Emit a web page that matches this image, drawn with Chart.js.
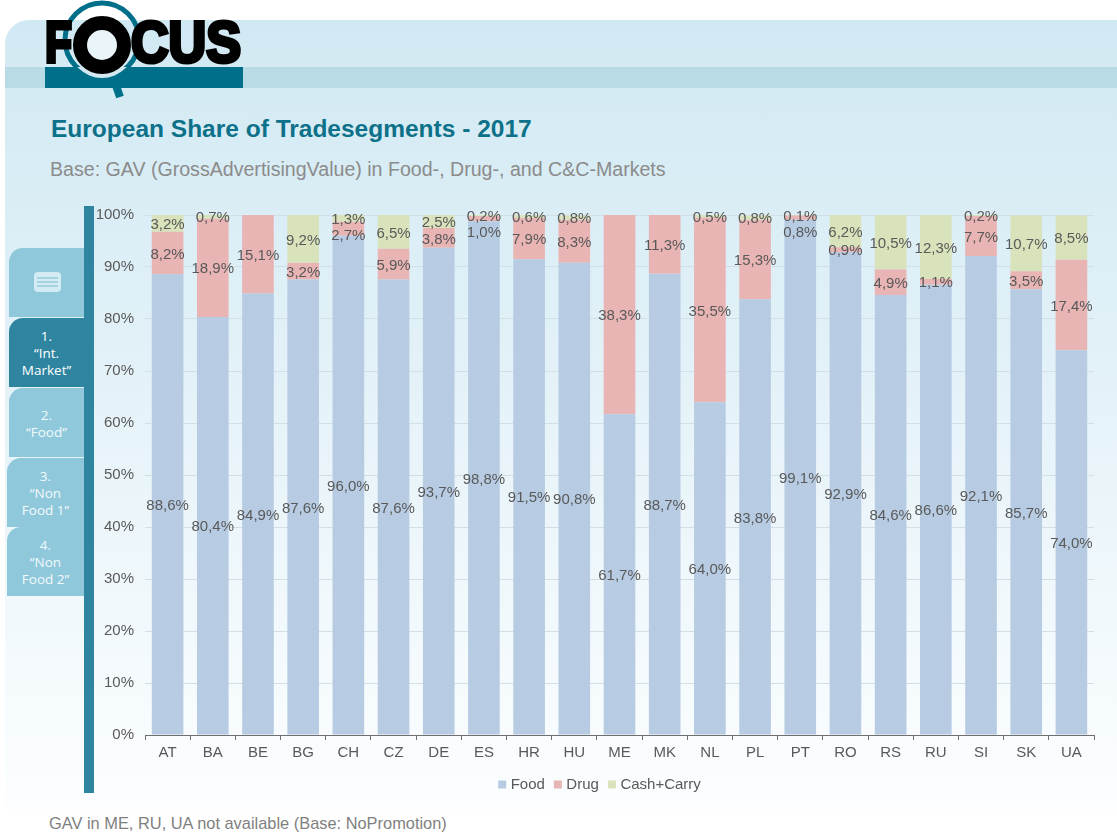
<!DOCTYPE html>
<html lang="en">
<head>
    <meta charset="UTF-8">
    <title>European Share of Tradesegments - 2017</title>
    <script src="https://cdn.jsdelivr.net/npm/chart.js"></script>
    <style>
        html, body { margin: 0; padding: 0; background: #fff; }
        body { position: relative; width: 1117px; height: 834px; overflow: hidden; font-family: "Liberation Sans", Arial, sans-serif; }
        .panel { position: absolute; left: 5px; top: 20px; width: 1112px; height: 790px; border-radius: 24px 0 0 0;
            background: linear-gradient(to bottom, #d1e9f3 0%, #dceef6 28%, #eef7fb 68%, #fcfeff 100%); }
        .band { position: absolute; left: 5px; top: 67px; width: 1112px; height: 21px; background: #b9dbe6; }
        .logo { position: absolute; left: 0; top: 0; }
        h1 { position: absolute; left: 51px; top: 114px; margin: 0; font-size: 24.5px; line-height: 30px; font-weight: bold; color: #0d7189; }
        .sub { position: absolute; left: 50px; top: 157px; font-size: 19.6px; line-height: 24px; color: #8b8b8b; }
        .note { position: absolute; left: 49px; top: 813px; font-size: 16.4px; line-height: 20px; color: #7f7f7f; }
        .rail { position: absolute; left: 84px; top: 206px; width: 10px; height: 587px; background: #2f85a0; }
        .tab { position: absolute; width: 75px; height: 69px; border-radius: 14px 0 0 0; background: #8fc8db; color: #f2fafc;
            font-family: "Open Sans", sans-serif; font-size: 13.5px; line-height: 17px; text-align: center; box-sizing: border-box; padding-top: 10px; }
        .tab.on { background: #2f85a0; color: #fff; }
        .icon { position: absolute; left: 25px; top: 24px; width: 27px; height: 20px; border-radius: 4px; background: #d3ebf2; }
        .icon i { position: absolute; left: 3px; right: 3px; height: 2px; background: #a5d3e2; }
        #wrap { position: absolute; left: 90px; top: 200px; width: 1020px; height: 610px; }
    </style>
</head>
<body>
    <div class="panel"></div>
    <div class="band"></div>

    <svg class="logo" width="260" height="100" viewBox="0 0 260 100">
        <rect x="45" y="67" width="198" height="21" fill="#00708a"/>
        <circle cx="102" cy="40" r="37" fill="none" stroke="#00708a" stroke-width="5"/>
        <line x1="113" y1="77" x2="120" y2="97" stroke="#00708a" stroke-width="8"/>
        <clipPath id="barClip"><rect x="45" y="67" width="198" height="21"/></clipPath>
        <circle cx="102" cy="45" r="33" fill="#d3e9f2" clip-path="url(#barClip)"/>
        <text x="45" y="62" font-family="Liberation Sans" font-weight="bold" font-size="57" fill="#000" stroke="#000" stroke-width="4" textLength="27" lengthAdjust="spacingAndGlyphs">F</text>
        <text x="131" y="62" font-family="Liberation Sans" font-weight="bold" font-size="57" fill="#000" stroke="#000" stroke-width="4" textLength="110" lengthAdjust="spacingAndGlyphs">CUS</text>
        <circle cx="102" cy="45" r="22" fill="#eaf5f9" stroke="#000" stroke-width="14"/>
    </svg>

    <h1>European Share of Tradesegments - 2017</h1>
    <div class="sub">Base: GAV (GrossAdvertisingValue) in Food-, Drug-, and C&amp;C-Markets</div>

    <div class="tab" style="left:9px;top:248px"><div class="icon"><i style="top:5px"></i><i style="top:9px"></i><i style="top:13px"></i></div></div>
    <div class="tab on" style="left:9px;top:318px">1.<br>“Int.<br>Market”</div>
    <div class="tab" style="left:9px;top:388px;padding-top:19px">2.<br>“Food”</div>
    <div class="tab" style="left:7px;top:458px;width:77px">3.<br>“Non<br>Food 1”</div>
    <div class="tab" style="left:7px;top:527px;width:77px">4.<br>“Non<br>Food 2”</div>
    <div class="rail"></div>

    <div id="wrap"><canvas id="shareChart" width="1020" height="610"></canvas></div>
    <div class="note">GAV in ME, RU, UA not available (Base: NoPromotion)</div>

    <script>
        const countries = ['AT', 'BA', 'BE', 'BG', 'CH', 'CZ', 'DE', 'ES', 'HR', 'HU', 'ME', 'MK', 'NL', 'PL', 'PT', 'RO', 'RS', 'RU', 'SI', 'SK', 'UA'];
        const food = [88.6, 80.4, 84.9, 87.6, 96.0, 87.6, 93.7, 98.8, 91.5, 90.8, 61.7, 88.7, 64.0, 83.8, 99.1, 92.9, 84.6, 86.6, 92.1, 85.7, 74.0];
        const drug = [8.2, 18.9, 15.1, 3.2, 2.7, 5.9, 3.8, 1.0, 7.9, 8.3, 38.3, 11.3, 35.5, 15.3, 0.8, 0.9, 4.9, 1.1, 7.7, 3.5, 17.4];
        const cashCarry = [3.2, 0.7, 0, 9.2, 1.3, 6.5, 2.5, 0.2, 0.6, 0.8, 0, 0, 0.5, 0.8, 0.1, 6.2, 10.5, 12.3, 0.2, 10.7, 8.5];

        const textColor = '#595959';
        const fontFamily = '"Liberation Sans", Arial, sans-serif';

        // values sit in the middle of each segment, comma as decimal mark.
        // going from the top segment down, a label too close to the one above is pushed below it
        const segmentLabels = {
            id: 'segmentLabels',
            afterDatasetsDraw(chart) {
                const ctx = chart.ctx;
                const minGap = 16;
                ctx.save();
                ctx.font = '15px ' + fontFamily;
                ctx.fillStyle = textColor;
                ctx.textAlign = 'center';
                ctx.textBaseline = 'middle';
                countries.forEach((name, j) => {
                    let lastY = -Infinity;
                    for (let i = chart.data.datasets.length - 1; i >= 0; i--) {
                        const value = chart.data.datasets[i].data[j];
                        if (!value) continue;
                        const c = chart.getDatasetMeta(i).data[j].getCenterPoint();
                        const y = Math.max(c.y, lastY + minGap);
                        ctx.fillText(value.toFixed(1).replace('.', ',') + '%', c.x, y + 1.5);
                        lastY = y;
                    }
                });
                ctx.restore();
            }
        };

        // legend is centred on the page part, not on the plot with its axis
        const legendShift = {
            id: 'legendShift',
            afterLayout(chart) {
                chart.legend.left += 9;
                chart.legend.right += 9;
            }
        };

        new Chart(document.getElementById('shareChart'), {
            type: 'bar',
            data: {
                labels: countries,
                datasets: [
                    { label: 'Food', data: food, backgroundColor: '#b7cce3' },
                    { label: 'Drug', data: drug, backgroundColor: '#e8b4b4' },
                    { label: 'Cash+Carry', data: cashCarry, backgroundColor: '#d9e3bb' }
                ]
            },
            options: {
                responsive: false,
                animation: false,
                layout: { autoPadding: false, padding: { left: 0, right: 16, top: 15, bottom: 8 } },
                datasets: { bar: { barPercentage: 0.7, categoryPercentage: 1 } },
                scales: {
                    x: {
                        stacked: true,
                        afterFit(scale) { scale.height = 30; },
                        border: { color: '#6f6f6f' },
                        grid: { drawOnChartArea: false, drawTicks: true, tickLength: 5, color: '#6f6f6f' },
                        ticks: { color: textColor, font: { family: fontFamily, size: 15 }, padding: 4, maxRotation: 0 }
                    },
                    y: {
                        stacked: true,
                        min: 0,
                        max: 100,
                        afterFit(scale) { scale.width = 55; },
                        border: { display: false },
                        // gap to the labels comes from invisible tick marks, tick padding would shrink the scale
                        grid: { color: '#d3dfe6', drawTicks: true, tickLength: 11, tickColor: 'rgba(0,0,0,0)' },
                        ticks: {
                            stepSize: 10,
                            color: textColor,
                            padding: 0,
                            font: { family: fontFamily, size: 15 },
                            callback: v => v + '%'
                        }
                    }
                },
                plugins: {
                    tooltip: { enabled: false },
                    legend: {
                        position: 'bottom',
                        labels: {
                            color: textColor,
                            font: { family: fontFamily, size: 15 },
                            usePointStyle: true,
                            pointStyle: 'rect',
                            boxWidth: 2,
                            boxHeight: 8,
                            padding: 12
                        }
                    }
                }
            },
            plugins: [segmentLabels, legendShift]
        });
    </script>
</body>
</html>
